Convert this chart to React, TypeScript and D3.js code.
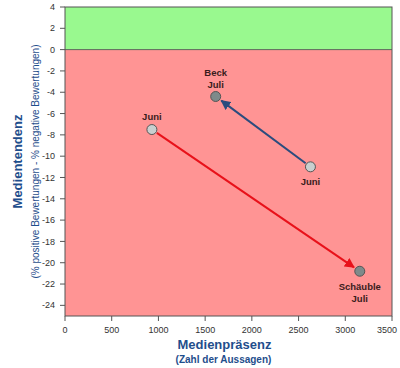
import React from 'react';
import * as d3 from 'd3';

// Points: [name, month, x (Zahl der Aussagen), y (Tendenz)]
const months = ['Juni', 'Juli'];
const schaeubleX = [930, 3155];
const schaeubleY = [-7.5, -20.8];
const beckX = [2627, 1613];
const beckY = [-11, -4.4];
const xTicks = [0, 500, 1000, 1500, 2000, 2500, 3000, 3500];
const yTicks = [4, 2, 0, -2, -4, -6, -8, -10, -12, -14, -16, -18, -20, -22, -24];

const W = 400;
const H = 368;
const margin = { top: 7, right: 8, bottom: 52, left: 65 };

const App = () => {
  const x = d3.scaleLinear().domain([0, 3500]).range([margin.left, 392]);
  const y = d3.scaleLinear().domain([-25, 4]).range([H - margin.bottom, margin.top]);
  const x0 = x(0), x1 = x(3500), yTop = y(4), yZero = y(0), yBot = y(-25);
  const font = 'Arial, "Liberation Sans", sans-serif';
  const navy = '#1F4E8C';

  // shorten arrow so that it ends just before the target circle
  const arrow = (ax: number, ay: number, bx: number, by: number) => {
    const dx = bx - ax, dy = by - ay;
    const len = Math.hypot(dx, dy);
    const ux = dx / len, uy = dy / len;
    return { x1: ax + ux * 6, y1: ay + uy * 6, x2: bx - ux * 7, y2: by - uy * 7 };
  };
  const aS = arrow(x(schaeubleX[0]), y(schaeubleY[0]), x(schaeubleX[1]), y(schaeubleY[1]));
  const aB = arrow(x(beckX[0]), y(beckY[0]), x(beckX[1]), y(beckY[1]));

  const labelStyle = { fontFamily: font, fontSize: 9.5, fontWeight: 700, fill: '#3a1c1c' } as const;

  return (
    <svg width={W} height={H} style={{ position: 'absolute', left: 0, top: 0, background: '#fff' }}>
      <defs>
        <marker id="arrRed" viewBox="0 0 10 10" refX="9" refY="5" markerWidth="5" markerHeight="5" orient="auto">
          <path d="M0,0 L10,5 L0,10 z" fill="#E8111A" />
        </marker>
        <marker id="arrBlue" viewBox="0 0 10 10" refX="9" refY="5" markerWidth="5" markerHeight="5" orient="auto">
          <path d="M0,0 L10,5 L0,10 z" fill="#2B4C7E" />
        </marker>
      </defs>

      {/* background zones */}
      <rect x={x0} y={yTop} width={x1 - x0} height={yZero - yTop} fill="#99F98F" />
      <rect x={x0} y={yZero} width={x1 - x0} height={yBot - yZero} fill="#FF9494" />
      <line x1={x0} x2={x1} y1={yZero} y2={yZero} stroke="#5a6a5a" strokeWidth={1} />
      <rect x={x0} y={yTop} width={x1 - x0} height={yBot - yTop} fill="none" stroke="#555" strokeWidth={1} />

      {/* y axis */}
      {yTicks.map(t => (
        <g key={'y' + t}>
          <line x1={x0 - 5} x2={x0} y1={y(t)} y2={y(t)} stroke="#555" />
          <text x={x0 - 10} y={y(t)} dy="0.35em" textAnchor="end" style={{ fontFamily: font, fontSize: 9, fill: '#333' }}>{t}</text>
        </g>
      ))}
      {/* x axis */}
      {xTicks.map((t, i) => {
        const last = i === xTicks.length - 1;
        return (
          <g key={'x' + t}>
            <line x1={x(t)} x2={x(t)} y1={yBot} y2={yBot + 5} stroke="#555" />
            <text x={last ? x(t) + 5 : x(t)} y={yBot + 17} textAnchor={last ? 'end' : 'middle'}
              style={{ fontFamily: font, fontSize: 9, fill: '#333' }}>{t}</text>
          </g>
        );
      })}

      {/* axis titles */}
      <text transform={`translate(22,${(yTop + yBot) / 2}) rotate(-90)`} textAnchor="middle"
        style={{ fontFamily: font, fontSize: 13, fontWeight: 700, fill: navy }}>Medientendenz</text>
      <text transform={`translate(39,${(yTop + yBot) / 2}) rotate(-90)`} textAnchor="middle"
        style={{ fontFamily: font, fontSize: 10, fill: navy }}>(% positive Bewertungen - % negative Bewertungen)</text>
      <text x={(x0 + x1) / 2 - 4} y={349} textAnchor="middle"
        style={{ fontFamily: font, fontSize: 13, fontWeight: 700, fill: navy }}>Medienpräsenz</text>
      <text x={(x0 + x1) / 2 - 5} y={363} textAnchor="middle"
        style={{ fontFamily: font, fontSize: 10, fontWeight: 700, fill: navy }}>(Zahl der Aussagen)</text>

      {/* arrows */}
      <line {...aS} stroke="#E8111A" strokeWidth={2} markerEnd="url(#arrRed)" />
      <line {...aB} stroke="#2B4C7E" strokeWidth={2} markerEnd="url(#arrBlue)" />

      {/* points */}
      {[0, 1].map(i => (
        <g key={'p' + i}>
          <circle cx={x(schaeubleX[i])} cy={y(schaeubleY[i])} r={5} fill={i === 0 ? '#C9CFCF' : '#7E8A8A'} stroke="#555" strokeWidth={1} />
          <circle cx={x(beckX[i])} cy={y(beckY[i])} r={5} fill={i === 0 ? '#C9CFCF' : '#7E8A8A'} stroke="#555" strokeWidth={1} />
        </g>
      ))}

      {/* point labels */}
      <text x={x(schaeubleX[0])} y={y(schaeubleY[0]) - 10} textAnchor="middle" style={labelStyle}>{months[0]}</text>
      <text x={x(schaeubleX[1])} y={y(schaeubleY[1]) + 19} textAnchor="middle" style={labelStyle}>Schäuble</text>
      <text x={x(schaeubleX[1])} y={y(schaeubleY[1]) + 31} textAnchor="middle" style={labelStyle}>{months[1]}</text>
      <text x={x(beckX[0])} y={y(beckY[0]) + 18} textAnchor="middle" style={labelStyle}>{months[0]}</text>
      <text x={x(beckX[1])} y={y(beckY[1]) - 21} textAnchor="middle" style={labelStyle}>Beck</text>
      <text x={x(beckX[1])} y={y(beckY[1]) - 9} textAnchor="middle" style={labelStyle}>{months[1]}</text>
    </svg>
  );
};

export default App;
